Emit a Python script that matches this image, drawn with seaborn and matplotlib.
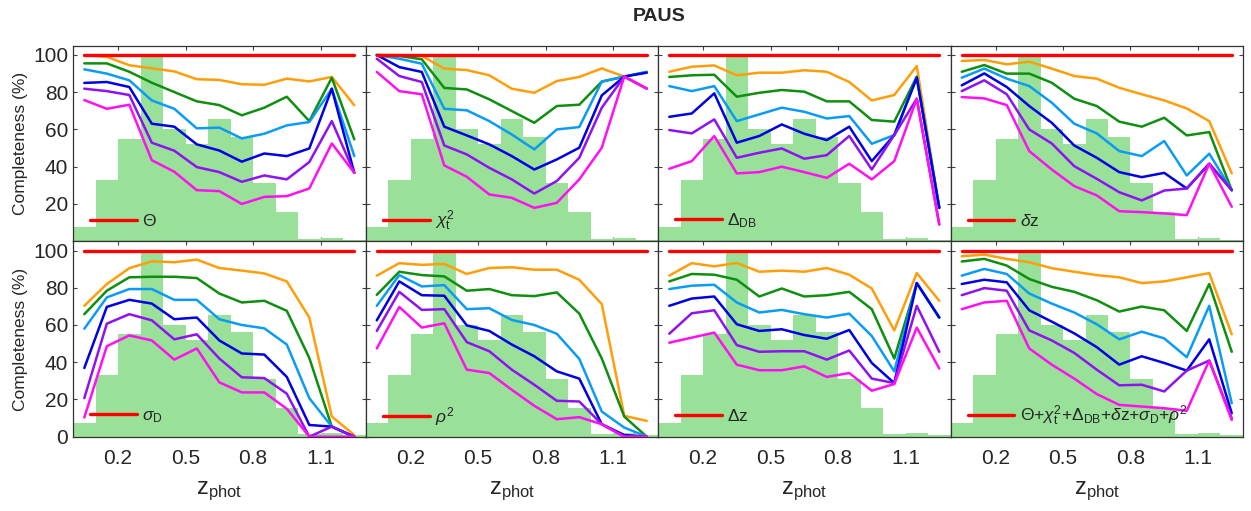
"""
PAUS completeness per cut, seaborn version.
"""

import numpy as np
import pandas as pd
import matplotlib
matplotlib.use("Agg")
import matplotlib.pyplot as plt
import seaborn as sns

# redshift bins (centres) used by every curve
z_mid = [0.05, 0.15, 0.25, 0.35, 0.45, 0.55, 0.65, 0.75, 0.85, 0.95, 1.05, 1.15, 1.25]
# background histogram of z_phot, scaled to a max of 100
hist_edges = [0.0, 0.1, 0.2, 0.3, 0.4, 0.5, 0.6, 0.7, 0.8, 0.9, 1.0, 1.1, 1.2, 1.3]
hist_heights = [7.5, 33, 55, 100, 60, 52, 65.5, 56, 31, 15.5, 1.4, 1.8, 0.9]

# curve order: orange, green, light blue, blue, purple, magenta
theta = [
    [100, 99, 94.5, 92.8, 91.2, 87, 86.6, 84.3, 84, 87.3, 85.8, 88.2, 73],
    [95.5, 95.5, 91, 85.1, 80.1, 75.1, 73.1, 67.6, 71.7, 77.6, 64.5, 87.8, 54.7],
    [92.3, 90, 86.4, 75.6, 71.1, 60.6, 61, 55.2, 57.7, 62.2, 64, 81.9, 45.7],
    [85, 85.5, 82.8, 63.1, 61.5, 52, 48.7, 42.7, 47.1, 45.7, 49.8, 81.9, 36.7],
    [81.9, 80.6, 78.5, 52.9, 48.6, 39.8, 37.1, 31.9, 35.3, 33.2, 42.5, 64.5, 36.7],
    [75.8, 71.1, 73.3, 43.5, 37.3, 27.4, 26.9, 20, 23.8, 24.2, 28.3, 52.5, 36.7],
]
chi2 = [
    [100, 100, 99.5, 92.7, 91.9, 89.1, 81.9, 79.7, 86, 88.2, 92.8, 88.4, 81.9],
    [100, 99.5, 97.7, 82.3, 81.5, 76.2, 69.9, 63.6, 72.6, 73.3, 85.7, 88.4, 90.9],
    [100, 98, 95.3, 71.1, 70.3, 64.5, 57.3, 49.3, 60, 61.3, 85.7, 88.4, 90.9],
    [100, 93.5, 90.9, 61.5, 56.8, 52, 45.7, 38.5, 43.9, 50.2, 78.3, 88.4, 90.5],
    [98, 88.7, 85.5, 51.4, 46.6, 39.4, 33.2, 25.6, 32.3, 44.8, 71.7, 88.4, 82],
    [90.9, 80.6, 78.9, 40.7, 34.6, 25.1, 23.3, 17.9, 20.6, 33.2, 50.2, 88.4, 81.9],
]
delta_db = [
    [91, 93.7, 94.4, 89.1, 90.5, 90.5, 91.8, 91, 85.5, 75.6, 78.5, 94.1, 18],
    [88.2, 89.1, 89.4, 77.6, 79.7, 81.2, 80.3, 75.1, 75.1, 65.1, 64.2, 88.4, 18],
    [83.3, 80.6, 83.3, 64.5, 68.1, 71.7, 69.5, 65.9, 67.2, 52.3, 57, 87.8, 17.9],
    [66.8, 68.6, 79.4, 52.9, 56.5, 62.7, 57.7, 54.3, 61.5, 43, 57, 87.8, 17.9],
    [59.7, 57.9, 65.4, 44.8, 47.5, 49.8, 44.3, 46.2, 56.5, 38.5, 57, 76.5, 9],
    [38.9, 43, 56.5, 36.4, 37.1, 40, 37.1, 34, 41.6, 33.2, 43, 76.5, 9],
]
dz_small = [
    [96.8, 97.3, 95, 96.4, 92.7, 88.7, 87.3, 82.4, 78.9, 75.6, 71.3, 64.5, 36.4],
    [91, 94.6, 90, 90, 85.1, 76.5, 72.6, 64.2, 61.5, 66.3, 56.8, 58.6, 27.4],
    [87.8, 92.7, 87.3, 83.3, 74.4, 63.1, 57.9, 48.4, 45.7, 53.8, 35.3, 47, 27.4],
    [83.7, 90.1, 82.8, 72.6, 63.6, 51.4, 44.8, 37.1, 34.4, 36.7, 28.3, 41.6, 27.4],
    [80.6, 86.4, 78.9, 60, 52.5, 40.3, 33.5, 26.3, 21.9, 27.2, 28.3, 41.6, 27.4],
    [77.4, 76.7, 73.1, 48.4, 38.5, 29.6, 24.6, 16.1, 15.6, 14.9, 14, 41.6, 18.5],
]
sigma_d = [
    [70.3, 82, 90.5, 94.2, 93.7, 95.1, 90.6, 89.2, 87.7, 83.4, 64, 10.8, 0.9],
    [65.8, 78.4, 85.6, 85.9, 85.9, 85.2, 76.9, 72.1, 73, 67.6, 42.3, 5.4, 0],
    [58, 74.8, 79.3, 79.3, 73.5, 73.5, 63.1, 60, 58.2, 49.5, 20.7, 5.4, 0],
    [36.9, 69.7, 73.5, 71.5, 63.1, 64, 51.7, 44.7, 44.1, 32.1, 6.3, 5.4, 0],
    [20.7, 60.7, 65.8, 62.5, 52.3, 55, 42, 31.9, 31.5, 23.1, 0, 5.4, 0],
    [10.3, 48.6, 54.4, 51.7, 41.4, 47.4, 29.2, 23.8, 23.8, 15, 0, 0, 0],
]
rho2 = [
    [86.5, 93.2, 92.3, 92.8, 87.4, 90.6, 91, 89.7, 89.7, 84.3, 71.2, 11.2, 8.5],
    [76.2, 88.6, 86.8, 86.1, 78.4, 79.3, 76, 75.5, 77.5, 66.1, 42, 10.8, 0],
    [70.3, 86.8, 80.7, 81.4, 68.5, 69, 62.7, 60, 55.3, 41.8, 13.5, 4.9, 0],
    [62.5, 83.4, 76, 75.7, 59.8, 56.8, 49.5, 43.2, 35.1, 31.2, 6.7, 0.9, 0],
    [56.8, 77.8, 68.1, 68.5, 50.8, 45.9, 36, 27.9, 19.3, 18.9, 6.7, 0, 0],
    [47.4, 69.7, 58.6, 60.9, 36, 34.2, 25.2, 16.6, 9.4, 10.5, 6.7, 0, 0],
]
dz_big = [
    [86.5, 93.2, 91.5, 93.3, 88.6, 89.2, 88.6, 90.6, 87, 79.6, 57.1, 87.9, 73],
    [83.4, 87.4, 87, 84.3, 75.3, 79.6, 75.3, 76, 77.8, 68.5, 42, 82.5, 64],
    [79.3, 81.1, 81.6, 72.1, 66.7, 68.1, 65.8, 64, 66.1, 54.1, 35.1, 82.5, 64],
    [70.3, 74.2, 75.3, 60.4, 56.8, 57.7, 54.6, 52.6, 57.3, 39.6, 28.8, 82.5, 64],
    [55.3, 66.3, 67.9, 49.2, 45.6, 45.9, 45.9, 41.4, 46.3, 31.2, 28.8, 70.3, 45.6],
    [50.5, 53.2, 55.9, 38.7, 35.7, 35.7, 37.8, 32.1, 34.2, 24.7, 28.3, 58.6, 36.6],
]
combined = [
    [96.9, 97.8, 95.5, 93.7, 90.5, 88.6, 86.8, 85.6, 82.5, 83.4, 85.6, 87.9, 55],
    [94.1, 95.5, 91.9, 84.7, 80.5, 77.8, 73.3, 67.2, 69.9, 67.9, 56.8, 82, 45.6],
    [86.5, 90.1, 87.4, 76.9, 71.5, 66.7, 60.4, 52.3, 56.4, 52.8, 42.7, 70.3, 18],
    [82, 84.3, 82.9, 67.9, 61.8, 55.5, 48.1, 38.7, 43.2, 39.6, 35.5, 52.3, 12.6],
    [76, 79.8, 78.4, 57.1, 51.7, 45, 36, 27.6, 27.9, 24.3, 35.5, 40.9, 9.9],
    [68.5, 72.1, 73, 47.4, 38.7, 31.2, 22.9, 17.1, 16.2, 15.3, 13.9, 40.9, 9],
]

panels = [theta, chi2, delta_db, dz_small, sigma_d, rho2, dz_big, combined]
panel_labels = [
    r"$\Theta$",
    r"$\chi_{\mathrm{t}}^{2}$",
    r"$\Delta_{\mathrm{DB}}$",
    r"$\delta$z",
    r"$\sigma_{\mathrm{D}}$",
    r"$\rho^{2}$",
    r"$\Delta$z",
    r"$\Theta$+$\chi_{\mathrm{t}}^{2}$+$\Delta_{\mathrm{DB}}$+$\delta$z+$\sigma_{\mathrm{D}}$+$\rho^{2}$",
]
line_colors = ["#FF9E0A", "#0F8F0F", "#0A9CF5", "#0000E6", "#8F12F2", "#FF10F0"]
levels = ["l1", "l2", "l3", "l4", "l5", "l6"]

sns.set_theme(style="white")
plt.rcParams["font.family"] = ["Liberation Sans", "DejaVu Sans"]
plt.rcParams["mathtext.fontset"] = "custom"
plt.rcParams["mathtext.rm"] = "Liberation Sans"
plt.rcParams["mathtext.it"] = "Liberation Sans:italic"
plt.rcParams["mathtext.bf"] = "Liberation Sans:bold"

fig, axes = plt.subplots(2, 4, figsize=(12.51, 5.11), dpi=100)
fig.subplots_adjust(left=0.0584, right=0.9936, top=0.9106, bottom=0.1454,
                    wspace=0, hspace=0)

for i, ax in enumerate(axes.flatten()):
    # green z_phot distribution in the back
    sns.histplot(x=z_mid, weights=hist_heights, bins=hist_edges, color="#99E099",
                 alpha=1, linewidth=0, edgecolor=None, ax=ax, zorder=1)

    curves = panels[i]
    df = pd.DataFrame({
        "z": np.tile(z_mid, len(levels)),
        "completeness": np.concatenate(curves),
        "level": np.repeat(levels, len(z_mid)),
    })
    sns.lineplot(data=df, x="z", y="completeness", hue="level", palette=line_colors,
                 linewidth=1.8, legend=False, ax=ax, zorder=3)

    # reference line at 100 %
    sns.lineplot(x=z_mid, y=[100] * len(z_mid), color="#FF0000", linewidth=2.4,
                 label=panel_labels[i], ax=ax, zorder=4)

    ax.legend(loc="center left", bbox_to_anchor=(0.005, 0.105), frameon=False,
              handlelength=2.7, handletextpad=0.3, fontsize=12.5)

    ax.set_xlim(0, 1.3)
    ax.set_ylim(0, 105)
    ax.set_xticks([0.2, 0.5, 0.8, 1.1])
    row = i // 4
    col = i % 4
    if row == 0:
        ax.set_yticks([20, 40, 60, 80, 100])
        ax.set_xticklabels([])
        ax.set_xlabel("")
    else:
        ax.set_yticks([0, 20, 40, 60, 80, 100])
        ax.set_xticklabels(["0.2", "0.5", "0.8", "1.1"])
        ax.set_xlabel(r"$\mathrm{z}_{\mathrm{phot}}$", fontsize=17,
                      color="#262626", labelpad=8)
    if col == 0:
        ax.set_ylabel("Completeness (%)", fontsize=12.5, color="#262626", labelpad=4)
    else:
        ax.set_yticklabels([])
        ax.set_ylabel("")

    ax.tick_params(direction="in", length=3, width=0.8, colors="#404040",
                   labelcolor="#262626", labelsize=15, top=True, right=True,
                   bottom=True, left=True)
    ax.tick_params(axis="x", pad=9)
    for sp in ax.spines.values():
        sp.set_visible(True)
        sp.set_color("#333333")
        sp.set_linewidth(0.9)

fig.suptitle("PAUS", fontsize=14, fontweight="bold", x=0.527, y=0.985)

plt.savefig("out.png", dpi=100)
plt.close()
